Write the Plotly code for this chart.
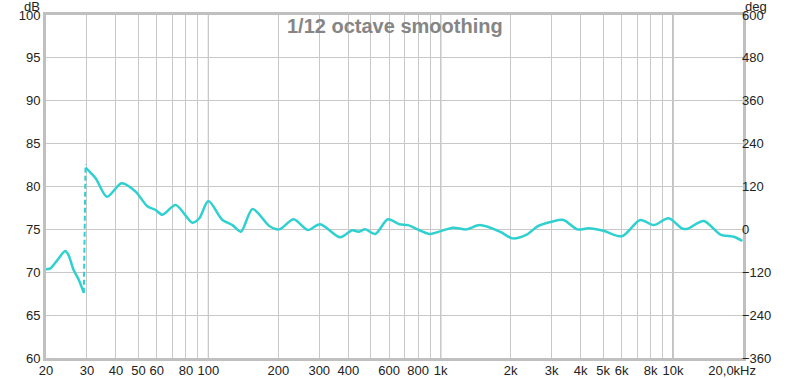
import math
import plotly.graph_objects as go

# --- data ---
freq_low = [20, 20.9, 22.3, 24.2, 25.0, 26.3, 27.7, 29.1]
db_low = [70.34, 70.45, 71.35, 72.48, 72.0, 70.26, 69.1, 67.6]

freq_jump = [29.1, 29.6]
db_jump = [67.6, 82.6]

freq_main = [29.6, 32.7, 36.6, 42.3, 48.6, 54.6, 59.3, 63.3, 72.3, 85.3, 91.4,
             100, 114.9, 126.9, 138, 154.9, 182.8, 201.6, 232.7, 267.5, 302.6,
             369, 416, 443, 473, 523, 592, 665, 723, 811, 896, 1000, 1130, 1291,
             1473, 1797, 2039, 2344, 2630, 3005, 3375, 3876, 4326, 5014, 6025,
             7225, 8247, 9570, 10940, 11490, 13550, 16000, 18260, 19880]
db_main = [82.2, 80.95, 78.8, 80.37, 79.4, 77.7, 77.26, 76.7, 77.84, 75.78, 76.3,
           78.3, 76.1, 75.5, 74.73, 77.38, 75.4, 75.0, 76.17, 74.93, 75.6,
           74.07, 74.9, 74.73, 75.0, 74.46, 76.17, 75.6, 75.5, 74.9, 74.46, 74.8, 75.2, 75.0,
           75.5, 74.73, 73.95, 74.4, 75.4, 75.9, 76.1, 75.0, 75.12, 74.84, 74.2,
           76.1, 75.5, 76.3, 75.1, 75.05, 75.98, 74.4, 74.14, 73.64]

x_grid = [20, 30, 40, 50, 60, 70, 80, 90, 100, 200, 300, 400, 500, 600, 700, 800, 900,
          1000, 2000, 3000, 4000, 5000, 6000, 7000, 8000, 9000, 10000, 20000]
x_labels = ["20", "30", "40", "50", "60", "", "80", "", "100", "200", "300", "400", "",
            "600", "", "800", "", "1k", "2k", "3k", "4k", "5k", "6k", "", "8k", "", "10k",
            "20,0kHz      "]
decade_lines = [100, 1000, 10000]

db_range = [60, 100]
deg_range = [-360, 600]
deg_ticks = [-360, -240, -120, 0, 120, 240, 360, 480, 600]

title_text = "1/12 octave smoothing"

color = "#2fd0d0"
font = dict(family="Liberation Sans, Arial, sans-serif", size=13, color="#222222")

fig = go.Figure()
fig.add_trace(go.Scatter(x=freq_low, y=db_low, mode="lines",
                         line=dict(color=color, width=2.5, shape="spline", smoothing=0.8),
                         showlegend=False, hoverinfo="skip"))
fig.add_trace(go.Scatter(x=freq_jump, y=db_jump, mode="lines",
                         line=dict(color=color, width=2, dash="5px,3px"),
                         showlegend=False, hoverinfo="skip"))
fig.add_trace(go.Scatter(x=freq_main, y=db_main, mode="lines",
                         line=dict(color=color, width=2.5, shape="spline", smoothing=0.8),
                         showlegend=False, hoverinfo="skip"))
# empty trace so the phase axis (deg) is drawn
fig.add_trace(go.Scatter(x=[], y=[], yaxis="y2", mode="lines",
                         showlegend=False, hoverinfo="skip"))

for f in decade_lines:
    fig.add_shape(type="line", xref="x", yref="paper", x0=f, x1=f, y0=0, y1=1,
                  line=dict(color="#7a7a7a", width=1), layer="below")

fig.add_annotation(text=title_text, xref="paper", yref="paper", x=0.5, y=0.969,
                   xanchor="center", yanchor="middle", showarrow=False,
                   font=dict(family="Liberation Sans, Arial, sans-serif", size=20,
                             color="#858585", weight="bold"))
fig.add_annotation(text="dB", xref="paper", yref="paper", x=0, y=1, xanchor="right",
                   yanchor="middle", xshift=-4, yshift=9, showarrow=False, font=font)
fig.add_annotation(text="deg", xref="paper", yref="paper", x=1, y=1, xanchor="left",
                   yanchor="middle", xshift=0, yshift=9, showarrow=False, font=font)

fig.update_layout(
    template="none",
    width=800, height=378,
    margin=dict(l=46, r=57, t=15, b=20, autoexpand=False),
    paper_bgcolor="white", plot_bgcolor="white",
    font=font,
    xaxis=dict(type="log", range=[math.log10(20), math.log10(20000)],
               tickmode="array", tickvals=x_grid, ticktext=x_labels,
               showgrid=True, gridcolor="#c8c8c8", gridwidth=1,
               showline=True, linecolor="#c0c0c0", linewidth=3, mirror=True,
               ticks="", zeroline=False, tickfont=font, automargin=False,
               ticklabelstandoff=-2),
    yaxis=dict(range=db_range, dtick=5, showgrid=True, gridcolor="#c8c8c8",
               gridwidth=1, showline=True, linecolor="#c0c0c0", linewidth=3,
               mirror=True, ticks="", zeroline=False, tickfont=font, automargin=False),
    yaxis2=dict(range=deg_range, tickmode="array", tickvals=deg_ticks,
                overlaying="y", side="right", showgrid=False, zeroline=False,
                showline=False, ticks="", tickfont=font, automargin=False,
                ticklabelstandoff=-2),
)

fig.write_html("out.html", config={"displayModeBar": False},
               post_script="document.body.style.margin='0px';document.body.style.overflow='hidden';")
